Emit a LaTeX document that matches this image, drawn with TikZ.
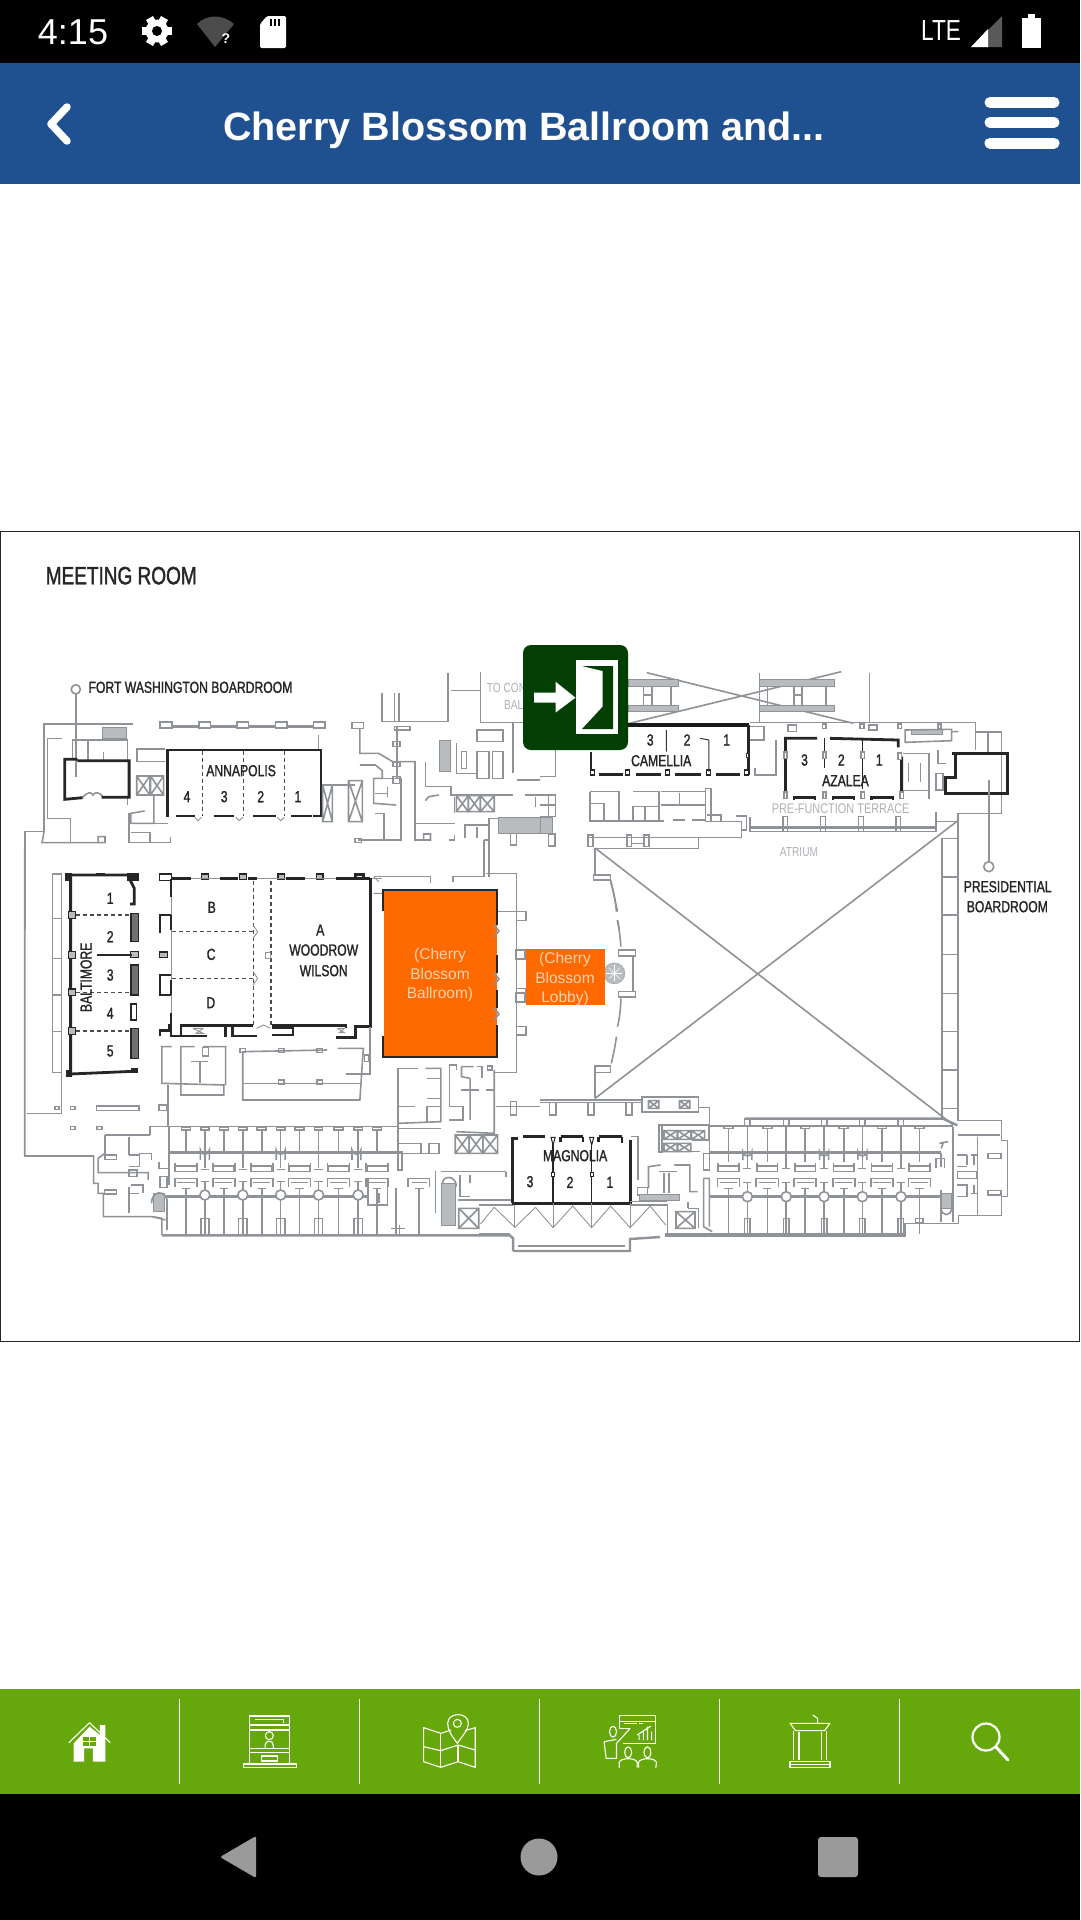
\documentclass[tikz,border=0pt]{standalone}
\usepackage{fontspec}
\setmainfont{Liberation Sans}
\newfontfamily\condf[FakeStretch=0.76,FakeBold=1.4]{Liberation Sans}
\newfontfamily\condt[FakeStretch=0.78]{Liberation Sans}
\newfontfamily\statf{Liberation Sans}
\definecolor{wallc}{HTML}{8F9397}
\definecolor{hatchc}{HTML}{B9BCBF}
\definecolor{blueb}{HTML}{1F5090}
\definecolor{greenb}{HTML}{66A80B}
\definecolor{orangeb}{HTML}{FF6A00}
\definecolor{exitg}{HTML}{033F03}
\definecolor{navg}{HTML}{9A9A9A}
\definecolor{peach}{HTML}{F7D2B4}
\definecolor{lightt}{HTML}{AEB1B5}
\newcommand{\xbx}[4]{\draw[wall] (#1,#2) rectangle (#3,#4) (#1,#2) -- (#3,#4) (#1,#4) -- (#3,#2);}
\newcommand{\hbx}[4]{\draw[hatch] (#1,#2) rectangle (#3,#4);}
\tikzset{
  Za/.style={shift={(0,530)},x=0.34439pt,y=-0.33333pt},
  Zb/.style={shift={(540,530)},x=0.34439pt,y=-0.33333pt},
  Zc/.style={shift={(0,850)},x=0.34439pt,y=-0.33333pt},
  Zd/.style={shift={(540,850)},x=0.34439pt,y=-0.33333pt},
  Zt/.style={x=0.68878pt,y=-0.33333pt},
  Zf/.style={shift={(0,1680)},x=0.68878pt,y=-0.33333pt},
  wall/.style={draw=wallc,line width=1.6pt,line join=miter},
  wallb/.style={draw=wallc,line width=2.4pt},
  thin wall/.style={draw=wallc,line width=.9pt},
  hatch/.style={draw=wallc,fill=hatchc,line width=1pt},
  bw/.style={draw=black!85,line width=2.4pt},
  bwb/.style={draw=black!90,line width=3.8pt},
  dashb/.style={draw=black!70,line width=1.1pt,dash pattern=on 4pt off 3pt},
  lb/.style={inner sep=0pt,align=center,text=black!85,font=\condf\fontsize{16}{19}\selectfont},
  lbs/.style={lb,font=\condf\fontsize{15}{18}\selectfont},
  lt/.style={inner sep=0pt,text=lightt,font=\condt\fontsize{14}{16}\selectfont},
  ot/.style={inner sep=0pt,align=center,text=peach,font=\fontsize{15.5}{19}\selectfont},
  ic/.style={draw=white,line width=1.1pt,line join=round},
}
\begin{document}
\begin{tikzpicture}[x=1pt,y=-1pt]
\useasboundingbox (0,0) rectangle (1080,1920);
\fill[white] (0,0) rectangle (1080,1920);
% bars
\fill[black] (0,0) rectangle (1080,63);
\fill[blueb] (0,63) rectangle (1080,184);
\fill[greenb] (0,1689) rectangle (1080,1794);
\fill[black] (0,1794) rectangle (1080,1920);
% frame
\draw[black!85,line width=1pt] (.5,531) rectangle (1079.5,1341);
% status bar
\node (time) [inner sep=0pt,text=white,font=\fontsize{36}{40}\selectfont] at (73,32) {4:15};
\foreach \a in {0,60,...,300}{\fill[white] (157,31) ++(\a:15) ++(\a+90:4) -- ++(\a+180:6) -- ++(\a-90:8) -- ++(\a:6) -- cycle;}
\fill[white] (157,31) circle (11.5);
\fill[black] (157,31) circle (5);
\fill[black!70] (215,47) -- (197,24) .. controls (207,14) and (223,14) .. (234,24) -- cycle;
\node (wq) [inner sep=0pt,text=white,font=\bfseries\fontsize{14}{16}\selectfont] at (226,39) {?};
\fill[white,rounded corners=1.5pt] (267,16) -- (286,16) -- (286,48) -- (260,48) -- (260,24) -- cycle;
\foreach \x in {270,274,278}{\fill[black] (\x,19) rectangle (\x+2,26);}
\node (lte) [inner sep=0pt,text=white,font=\condt\fontsize{29}{32}\selectfont] at (941,31) {LTE};
\fill[black!65] (971,47) -- (1002,16) -- (1002,47) -- cycle;
\fill[white] (971,47) -- (988,29) -- (988,47) -- cycle;
\fill[white] (1022,18) rectangle (1041,48);
\fill[white] (1028,14) rectangle (1035,19);
% header
\node (title) [anchor=base,inner sep=0pt,text=white,font=\bfseries\fontsize{39.5}{42}\selectfont] at (524,140) {Cherry Blossom Ballroom and...};
\draw[white,line width=7.5pt,line cap=round,line join=round] (67,107) -- (51,124) -- (67,141);
\foreach \y in {102.5,122.5,143}{\draw[white,line width=11pt,line cap=round] (990,\y) -- (1054,\y);}

% ---------- top left
\begin{scope}[Za]
\draw[wall] (220,492) -- (220,740);
\draw[wall,fill=white] (220,478) circle[radius=4.6pt];
\draw[wall] (385,582) -- (128,582) -- (128,905) -- (72,905) -- (72,1200);
\draw[wall] (128,905) -- (122,938) -- (305,938) -- (305,920) -- (285,920) -- (285,938);
\draw[wall] (180,625) -- (138,625) -- (138,865) -- (205,865) -- (205,938);
\hbx{298}{592}{368}{625}
\draw[wall] (210,630) -- (370,630) -- (370,690);
\draw[wall] (210,630) -- (210,690) (255,630) -- (255,690) (300,665) -- (300,690) (370,805) -- (370,825);
\draw[wall] (240,802) .. controls (255,785) and (265,785) .. (270,795) .. controls (275,785) and (290,785) .. (300,802);
\draw[bw,line width=2.8pt] (240,803) -- (188,808) -- (188,688) -- (225,688) (225,692) -- (375,692) -- (375,802) -- (295,802);
% top colonnade
\draw[wallb] (465,590) -- (945,590);
\foreach \x in {465,577,688,800,910}{\draw[wall,fill=white] (\x,576) rectangle (\x+34,594);}
\draw[wall] (925,615) -- (925,660);
% annapolis
\draw[bw,line width=2.8pt] (487,860) -- (487,660) -- (932,660) -- (932,860);
\foreach \a/\b in {510/565,620/680,735/800,845/905,910/932}{\draw[bw,line width=2.8pt] (\a,858) -- (\b,858);}
\foreach \x in {587,707,827}{\draw[dashb] (\x,662) -- (\x,858);}
\foreach \x in {575,695,815}{\draw[thin wall] (\x-10,862) -- (\x,872) -- (\x+10,862);}
\node (annap) [lb] at (700,722) {ANNAPOLIS};
\node (an4) [lb] at (543,800) {4};
\node (an3) [lb] at (651,800) {3};
\node (an2) [lb] at (757,800) {2};
\node (an1) [lb] at (865,800) {1};
% left of annapolis
\draw[wall] (480,657) -- (397,657) -- (397,695) -- (480,695);
\xbx{397}{738}{435}{795}
\xbx{437}{738}{475}{795}
\draw[wall] (447,795) -- (447,880) -- (380,880) -- (380,850) -- (420,843);
\draw[wall] (375,850) -- (375,938) -- (495,938) -- (495,920);
\draw[wall] (380,908) -- (435,908) -- (435,938) (447,880) -- (487,880);
% right of annapolis
\xbx{937}{765}{965}{875}
\draw[wall] (965,765) -- (1030,765);
\xbx{1012}{752}{1052}{875}
% centre block
\draw[wall] (1022,577) rectangle (1055,595);
\draw[wall] (1045,595) -- (1045,670) -- (1100,670) -- (1140,695) -- (1205,695) -- (1205,930) -- (1250,930) -- (1250,912) -- (1230,912) -- (1230,930);
\draw[wall] (1235,695) -- (1235,770) -- (1310,770) -- (1310,795) -- (1490,795);
\draw[wall] (1205,880) -- (1320,880) (1320,800) -- (1320,850);
\draw[wall] (1320,915) -- (1320,930) -- (1305,930);
\draw[wall] (1110,490) -- (1110,575) -- (1300,575) -- (1300,430);
\draw[wall] (1145,490) -- (1145,575) (1158,490) -- (1158,575);
\draw[wall] (1310,482) -- (1395,482);
\draw[wall] (1395,425) -- (1395,577) -- (1525,577);
\draw[wall] (1152,590) -- (1152,745);
\draw[wall] (1145,590) rectangle (1190,600);
\draw[wall] (1142,635) rectangle (1162,650) (1142,698) rectangle (1162,710) (1142,740) rectangle (1162,760);
\draw[wall] (1045,705) -- (1090,705) -- (1110,722) -- (1110,745) -- (1085,745) -- (1085,820) -- (1150,825);
\draw[wall] (1110,745) -- (1165,745) -- (1165,930) -- (1040,930);
\draw[wall] (1030,925) rectangle (1050,938);
\draw[wall] (1090,850) -- (1115,850) -- (1115,930);
\draw[wall] (1090,790) -- (1125,790) (1125,770) -- (1125,800);
\draw[wall] (1235,812) -- (1245,800) -- (1275,795);
\hbx{1275}{630}{1308}{725}
\draw[wall] (1325,640) -- (1325,730) -- (1385,730);
\draw[wall] (1340,665) rectangle (1355,715);
\draw[wall] (1385,600) rectangle (1460,635);
\draw[wall] (1385,665) rectangle (1420,745);
\draw[wall] (1430,665) rectangle (1460,745);
\draw[wall] (1490,580) -- (1490,730) (1500,750) -- (1568,750);
\xbx{1325}{797}{1360}{845}
\xbx{1360}{797}{1395}{845}
\xbx{1395}{797}{1435}{845}
\hbx{1447}{862}{1568}{910}
\draw[wall] (1525,795) -- (1568,795) (1555,800) -- (1555,830);
\draw[wall] (1420,865) -- (1447,865) (1420,865) -- (1420,1040) (1405,930) -- (1405,1040) (1405,930) -- (1420,930);
\draw[wall] (1350,925) -- (1350,885) -- (1420,885) (1385,890) -- (1385,925);
\draw[wall] (1482,910) rectangle (1500,945);
% labels
\node (mroom) [inner sep=0pt,text=black!85,font=\condf\fontsize{25}{28}\selectfont] at (352,137) {MEETING ROOM};
\node (fwb) [lb] at (553,472) {FORT WASHINGTON BOARDROOM};
\node (toc) [lt,anchor=west,font=\condt\fontsize{13}{15}\selectfont] at (1413,475) {TO CON};
\node (bal) [lt,anchor=west,font=\condt\fontsize{13}{15}\selectfont] at (1463,524) {BAL};
\end{scope}

% ---------- top right
\begin{scope}[Zb]
\draw[wall] (310,428) -- (910,580);
\draw[wall] (240,585) -- (875,425);
\draw[wall] (957,430) -- (957,580);
\draw[wall] (637,430) -- (637,580);
\hbx{256}{447}{403}{470}
\hbx{256}{525}{403}{545}
\hbx{637}{447}{855}{470}
\hbx{637}{525}{855}{545}
\foreach \x in {300,325,380,660,738,760,830}{\draw[wall] (\x,470) -- (\x,525);}
\draw[wall] (300,495) -- (325,495) (738,495) -- (760,495);
% camellia
\draw[bwb] (240,586) -- (607,586);
\draw[bw,line width=2.8pt] (605,586) -- (605,735);
\draw[bw] (148,665) -- (148,735);
\foreach \a/\b in {170/240,280/350,392/468,510/580}{\draw[bw] (\a,733) -- (\b,733);}
\foreach \x in {152,255,370,490,600}{\draw[bw,line width=1.1pt,fill=white] (\x-6,720) rectangle (\x+6,735);}
\draw[black!80,line width=1pt] (367,600) -- (367,665) (490,630) -- (490,725) (465,625) -- (490,630);
\draw[black!80,line width=.8pt,fill=white] (600,670) rectangle (606,682);
\node (cam3) [lb] at (320,630) {3};
\node (cam2) [lb] at (427,630) {2};
\node (cam1) [lb] at (542,630) {1};
\node (cam) [lb] at (352,692) {CAMELLIA};
% east corridor
\draw[wall] (610,578) -- (1265,578) -- (1265,606) -- (1340,606) -- (1340,850) -- (1212,850);
\draw[wall] (610,590) -- (650,590) -- (650,630) -- (610,630);
\draw[wall] (685,630) -- (685,735) -- (625,735) -- (625,715);
\draw[wall] (720,585) rectangle (745,605) (955,585) rectangle (978,600);
\foreach \x in {825,935,1045,1160}{\draw[wall] (\x-5,582) rectangle (\x+5,596);}
\draw[wall] (1300,610) -- (1300,665) (1265,606) -- (1265,660);
% azalea
\draw[bw,line width=2.8pt] (713,790) -- (713,625) -- (805,625) (842,625) -- (1040,630) -- (1040,652) (1050,680) -- (1050,785);
\foreach \a/\b in {738/798,850/912,962/1025}{\draw[bw] (\a,810) -- (\a,803) -- (\b,803) -- (\b,810);}
\draw[black!85,line width=1.3pt] (826,625) -- (826,715) (937,630) -- (937,778);
\foreach \x/\y in {713/672,826/672,937/672,1045/675,713/792,826/792,937/792,1050/792}{\draw[wall,fill=white] (\x-5,\y-6) rectangle (\x+5,\y+14);}
\node (az3) [lb] at (768,690) {3};
\node (az2) [lb] at (875,690) {2};
\node (az1) [lb] at (985,690) {1};
\node (az) [lb] at (887,752) {AZALEA};
\node (pft) [lt] at (873,836) {PRE-FUNCTION TERRACE};
\node (atr) [lt,font=\condt\fontsize{13}{15}\selectfont] at (752,965) {ATRIUM};
% east services
\hbx{1078}{598}{1170}{612}
\draw[wall] (1060,600) -- (1195,598) -- (1195,632) -- (1060,637) -- cycle (1195,605) -- (1215,605);
\draw[wall] (1055,670) -- (1130,670) -- (1130,808) (1055,782) -- (1130,782);
\draw[wall] (1070,700) -- (1070,755) (1105,700) -- (1105,755);
\draw[wall] (1155,660) -- (1155,700) -- (1178,700) (1150,730) -- (1170,730) -- (1170,780) -- (1150,780) -- cycle;
% presidential
\draw[bw,line width=3pt] (1195,670) -- (1358,670) -- (1358,790) -- (1178,790) -- (1178,742) -- (1205,742) -- (1205,670);
\draw[wall] (1303,750) -- (1303,995);
\draw[wall,fill=white] (1303,1010) circle[radius=5pt];
\node (pres) [lb] at (1358,1070) {PRESIDENTIAL};
\node (bdrm) [lb] at (1357,1130) {BOARDROOM};
% terrace wall
\draw[wallb] (610,892) -- (1150,892);
\draw[wall] (610,905) -- (1150,905) (610,862) -- (610,905);
\foreach \x in {712,822,932,1040}{\draw[wall] (\x-7,905) -- (\x-7,860) -- (\x+7,860) -- (\x+7,905);}
\draw[wall] (1150,845) -- (1150,905) (1150,875) -- (1212,875);
\draw[wall] (480,775) rectangle (497,875);
\draw[wall] (485,855) -- (525,855) -- (525,875) (485,875) -- (585,875) -- (585,922) -- (140,922);
\draw[wall] (570,858) -- (600,858) -- (600,900) -- (585,900);
% atrium NW rooms
\draw[wall] (145,785) -- (230,785) -- (230,873) (145,785) -- (145,873) -- (360,873) (185,820) -- (185,873) (145,820) -- (185,820);
\draw[wall] (270,873) -- (270,830) -- (345,830) (270,785) -- (345,785) -- (345,873) (305,830) -- (305,873);
\draw[wall] (350,785) -- (480,785) (350,825) -- (480,825) (405,790) -- (405,825);
\draw[wallb] (385,870) -- (420,870) (440,870) -- (480,870);
\draw[wall] (25,795) -- (45,795) -- (45,860) -- (0,860) (25,795) -- (25,860) (0,795) -- (45,795) (0,825) -- (45,825);
\hbx{0}{862}{35}{910}
\draw[wall] (25,912) rectangle (43,948);
\draw[wall] (0,740) -- (45,740) -- (45,660);
% atrium frame
\draw[wall] (160,955) -- (460,955) -- (460,925);
\foreach \x in {140,252,302}{\draw[wall] (\x,915) rectangle (\x+14,950);}
\draw[wall] (267,940) -- (302,940);
\draw[wall] (160,955) -- (160,1035);
\draw[wall] (155,1035) -- (205,1035) -- (205,1050) -- (155,1050) -- cycle;
\draw[wall] (205,1050) -- (225,1145) (225,1170) -- (230,1200);
% double wall
\draw[wall] (1167,925) -- (1167,1200);
\draw[wallb] (1213,850) -- (1213,1200);
\foreach \y in {925,1040,1155}{\draw[wall] (1167,\y) -- (1213,\y);}
\end{scope}

% ---------- bottom left
\begin{scope}[Zc]
\draw[wall] (72,0) -- (72,918) -- (272,918) -- (272,1000) -- (285,1000) -- (285,1030) -- (300,1030) -- (300,1100) -- (440,1100) (440,1100) -- (470,1105) -- (470,1155);
\draw[wallb] (470,1156) -- (1480,1156) -- (1490,1165) -- (1490,1203);
% west lobby
\draw[wall] (152,72) rectangle (178,668);
\foreach \y in {205,325,435,545}{\draw[wall] (152,\y) -- (178,\y);}
\draw[wall] (178,668) -- (178,790) -- (78,790);
\draw[wall] (205,770) rectangle (218,778) (160,770) rectangle (172,778) (205,830) rectangle (218,838) (282,830) rectangle (296,838);
\draw[wall] (280,768) rectangle (403,782);
\draw[wall] (462,765) rectangle (483,782);
\draw[wall] (488,705) -- (488,830);
% Baltimore
\draw[bw,line width=2.8pt] (380,75) -- (205,75) -- (205,672) -- (385,664) -- (400,664);
\foreach \x/\y/\u/\v in {190/68/210/92,370/68/405/92,280/68/305/78,192/660/210/680,380/655/402/668}{\fill[black!85] (\x,\y) rectangle (\u,\v);}
\draw[bw,line width=2.8pt] (378,90) -- (390,115) -- (390,162) -- (378,162);
\foreach \u/\v in {190/275,345/435,535/625}{\draw[bw,line width=1.3pt,fill=hatchc!60!black] (380,\u) rectangle (403,\v);}
\draw[bw,line width=1.3pt,fill=white] (380,462) rectangle (396,510);
\foreach \y in {195,315,427,543}{\draw[bw,line width=1.2pt,fill=hatchc] (200,\y-10) rectangle (220,\y+10);}
\draw[bw,line width=1.2pt,fill=hatchc] (380,305) rectangle (402,322);
\draw[dashb] (222,195) -- (380,195) (222,427) -- (380,427) (222,543) -- (380,543);
\draw[black!85,line width=1.3pt] (282,315) -- (382,315);
\node (balt) [lb,rotate=90] at (250,382) {BALTIMORE};
\node (ba1) [lb] at (320,145) {1};
\node (ba2) [lb] at (320,260) {2};
\node (ba3) [lb] at (320,375) {3};
\node (ba4) [lb] at (320,490) {4};
\node (ba5) [lb] at (320,603) {5};
% Woodrow Wilson
\foreach \a/\b in {497/555,640/690,720/745,830/885,975/1075}{\draw[bw] (\a,86) -- (\b,86);}
\foreach \x in {595,705,817,928}{\draw[bw,line width=1.2pt,fill=hatchc] (\x-10,72) rectangle (\x+10,88);}
\draw[bw,line width=1.2pt,fill=white] (464,72) rectangle (497,92);
\draw[bw] (1032,82) -- (1032,74) -- (1055,74) -- (1055,82);
\draw[thin wall] (555,86) -- (640,86) (745,86) -- (830,86) (885,86) -- (975,86) (1075,86) -- (1110,86);
\draw[bw,line width=2.8pt] (1075,85) -- (1075,530) -- (1032,530) -- (1032,562) -- (975,562);
\draw[bw] (497,88) -- (497,140) (497,195) -- (497,240) (497,390) -- (497,435) (497,490) -- (497,530);
\draw[thin wall] (497,140) -- (497,195) (497,240) -- (497,390) (497,435) -- (497,490);
\draw[bw] (497,195) -- (465,195) -- (465,250) (497,375) -- (465,375) -- (465,435) -- (497,435);
\draw[bw,line width=1.2pt,fill=hatchc] (464,306) rectangle (486,322);
\draw[bw] (465,558) -- (465,542) -- (490,542) -- (490,525) -- (497,525) (497,527) -- (497,558) -- (525,558) -- (525,527) -- (735,527) (525,558) -- (600,558);
\draw[bw] (790,527) -- (1005,527) -- (1005,535);
\draw[bw] (655,530) -- (655,560) (675,530) -- (675,558) -- (745,558) (790,532) -- (850,532) -- (850,555) -- (790,555);
\draw[thin wall] (560,535) -- (590,535) -- (570,550) -- (590,550) -- (560,535) (980,535) -- (1000,535) -- (985,548) -- (1000,548) -- (980,535) (745,535) -- (765,525) -- (785,535);
\draw[dashb] (735,92) -- (735,525) (787,92) -- (787,525);
\draw[dashb] (500,245) -- (735,245) (500,385) -- (735,385);
\draw[thin wall] (735,225) -- (748,245) -- (735,265) (735,365) -- (748,385) -- (735,405);
\draw[thin wall] (772,308) rectangle (785,325);
\node (rb) [lb] at (615,172) {B};
\node (rc) [lb] at (613,313) {C};
\node (rd) [lb] at (612,458) {D};
\node (ra) [lb] at (930,240) {A};
\node (woodrow) [lb] at (940,300) {WOODROW};
\node (wilson) [lb] at (940,362) {WILSON};
% south of Woodrow Wilson
\draw[wall] (498,590) -- (470,590) -- (470,700) -- (650,705) -- (650,735) -- (525,735) -- (525,590) -- (565,590) (590,590) -- (655,590) -- (655,705);
\draw[wall] (588,592) rectangle (605,618);
\draw[wall] (555,635) -- (605,635) (580,635) -- (580,700);
\draw[wall] (950,600) -- (705,605) -- (705,750) -- (1045,750) -- (1055,595) -- (980,595);
\draw[wall] (705,700) -- (1045,700) (1005,672) -- (1075,672) -- (1075,530);
\foreach \x in {705,817,928}{\draw[wall] (\x-8,596) rectangle (\x+8,608);}
\foreach \x in {817,928}{\draw[wall] (\x-8,690) rectangle (\x+8,702);}
\draw[wall] (1058,615) rectangle (1072,635);
% centre service block
\draw[wall] (1215,655) -- (1155,655) -- (1155,910) -- (1275,910) -- (1275,880) -- (1245,880) -- (1245,910);
\draw[wall] (1235,655) -- (1280,655) -- (1280,815) -- (1155,820);
\draw[wall] (1155,770) -- (1205,770) (1240,820) -- (1240,770) -- (1280,770) (1240,685) -- (1280,685) (1240,745) -- (1280,745);
\draw[wall] (1155,835) -- (1280,835) (1160,880) -- (1222,880) -- (1222,910);
\draw[wall] (1305,645) -- (1305,770) -- (1345,770) -- (1345,810) -- (1305,810) (1305,645) -- (1325,645) -- (1325,660);
\draw[wall] (1340,650) -- (1375,650) (1340,650) -- (1340,680) -- (1365,685) (1365,685) -- (1365,810);
\draw[wall] (1340,720) -- (1392,720) (1410,720) -- (1435,720) (1385,650) -- (1400,650) -- (1400,685);
\draw[wall] (1435,660) -- (1435,850) -- (1325,845);
\draw[wall] (1415,648) rectangle (1428,660);
\draw[wall] (1435,668) -- (1500,668) -- (1500,70) -- (1410,70) (1500,185) -- (1445,185);
\draw[wall] (1440,770) -- (1568,770);
\draw[wall] (1482,755) rectangle (1500,795);
\foreach \a/\b in {185/212,305/328,415/440,530/555}{\draw[wall] (1500,\a) rectangle (1527,\b);}
\xbx{1322}{855}{1362}{910}
\xbx{1362}{855}{1402}{910}
\xbx{1402}{855}{1445}{910}
\draw[wall] (1085,80) -- (1250,80) -- (1250,100) (1315,95) -- (1315,80) -- (1405,80);
\draw[thin wall] (1085,130) -- (1110,130) (1085,80) -- (1100,95);
% west wing rooms
\draw[wall] (435,855) -- (435,830) -- (1155,830);
\draw[wallb] (490,908) -- (1165,908) (465,1040) -- (1070,1040);
\draw[wall] (490,830) -- (490,1005);
\draw[wall] (305,855) -- (435,855) (305,855) -- (305,910) -- (285,925) -- (285,968) -- (430,968) -- (430,990);
\draw[wall] (375,860) -- (375,915) (375,1010) -- (375,1090) (305,915) rectangle (338,928);
\draw[wall] (375,915) -- (405,915) -- (405,950) (375,950) -- (405,950) (405,910) -- (440,910) -- (440,930);
\draw[wall] (375,960) rectangle (398,980);
\draw[wall] (375,1030) -- (405,1030) (380,1005) -- (415,1005) -- (415,1030) (303,1020) rectangle (338,1032);
\draw[wall] (462,935) -- (462,955) -- (490,955) (465,980) rectangle (485,1012);
\hbx{447}{1030}{478}{1085}
\draw[wall] (440,1060) .. controls (440,1020) and (480,1020) .. (485,1050) (445,1100) -- (480,1110) (485,1050) -- (485,1140);
\foreach \x in {540,650,760,870,983,1095}{
  \draw[wall] (\x-13,832) rectangle (\x+13,840) (\x,840) -- (\x,908);
  \draw[wall] (\x-32,965) -- (\x-32,940) (\x+32,965) -- (\x+32,940) (\x-32,965) -- (\x+32,965) (\x-30,948) rectangle (\x+30,965);
  \draw[wall] (\x-32,1012) -- (\x-32,985) -- (\x+32,985) -- (\x+32,1012) (\x-25,997) -- (\x+25,997);
  \draw[wall] (\x-12,1015) -- (\x+12,1015) (\x,1015) -- (\x,1155);
}
\foreach \x in {595,705,815,925,1040}{
  \draw[wall] (\x-12,832) rectangle (\x+12,840) (\x,840) -- (\x,955) (\x-12,958) -- (\x+12,958);
  \draw[wall] (\x-12,995) -- (\x+12,995) (\x,995) -- (\x,1155) (\x-12,1105) rectangle (\x+12,1155);
}
\foreach \x in {595,815,1035}{\draw[wall] (\x-13,930) -- (\x-13,900) arc[start angle=180,end angle=0,radius=13] -- (\x+13,930);}
\foreach \x in {595,705,815,925,1040}{\draw[wall,fill=white] (\x,1035) circle[radius=5pt];}
% west wing south service
\draw[wall] (1068,985) -- (1125,985) -- (1125,1065) -- (1068,1065) -- cycle;
\draw[wall] (1185,985) -- (1247,985) -- (1247,1010) (1185,1010) -- (1185,985) (1195,997) -- (1240,997) (1205,1015) -- (1230,1015) (1217,1015) -- (1217,1155);
\draw[wall] (1150,1015) -- (1150,1155) (1100,1030) -- (1100,1060) (1160,1125) -- (1160,1155) (1135,1135) -- (1175,1135);
\draw[wall] (1155,905) rectangle (1168,960);
\draw[wall] (1265,962) -- (1265,1090) (1280,965) -- (1470,965) (1470,965) -- (1470,980);
\hbx{1282}{1000}{1322}{1125}
\draw[wall] (1285,1000) .. controls (1285,975) and (1325,975) .. (1325,1010);
\draw[wall] (1335,975) -- (1335,1040) -- (1365,1040) (1365,975) -- (1365,1000);
\draw[wall] (1330,1050) -- (1485,1050);
\xbx{1332}{1075}{1390}{1135}
\draw[wall] (1390,1065) -- (1490,1065);
\draw[thin wall] (1395,1122) -- (1435,1072) -- (1495,1132) -- (1555,1072);
\draw[thin wall] (1495,1065) -- (1495,1132);
\draw[thin wall] (1390,1150) -- (1480,1150);
\end{scope}

% ---------- bottom right
\begin{scope}[Zd]
\draw[wall,line width=1.6pt] (160,-6) -- (1200,825);
\draw[wall,line width=1.6pt] (160,745) -- (1212,-87);
\draw[wall] (1167,0) -- (1167,805);
\draw[wallb] (1213,0) -- (1213,812);
\foreach \y in {82,197,313,430,545,660,775}{\draw[wall] (1167,\y) -- (1213,\y);}
\draw[wall] (205,95) .. controls (215,125) and (220,160) .. (222,185) (225,210) .. controls (230,235) and (233,265) .. (235,290) (235,445) .. controls (234,480) and (230,510) .. (225,530) (222,560) .. controls (218,590) and (212,620) .. (207,640);
\draw[wall] (228,300) rectangle (277,318) (228,425) rectangle (277,441) (270,318) -- (270,425);
\draw[hatchc!80!black,fill=hatchc] (216,370) circle[radius=10.5pt];
\foreach \a in {0,45,...,315}{\draw[white,line width=.5pt] (216,370) -- ++(\a:8pt);}
\draw[wall] (160,745) -- (160,648) -- (205,648) -- (205,668) -- (160,668);
\draw[wall] (0,750) -- (295,750) (0,757) -- (295,757);
\foreach \x in {37,148,258}{\draw[wall] (\x-9,757) -- (\x-9,795) -- (\x+9,795) -- (\x+9,757);}
\draw[wall,line width=1.8pt] (295,742) rectangle (460,787);
\xbx{315}{752}{345}{775}
\xbx{405}{752}{435}{775}
\draw[wall] (460,772) -- (492,772) -- (492,825);
\draw[wall,line width=1.9pt] (345,825) rectangle (355,905);
\xbx{360}{842}{398}{868}
\xbx{400}{842}{438}{868}
\xbx{440}{842}{478}{868}
\xbx{360}{880}{398}{905}
\xbx{400}{880}{438}{905}
\draw[wall] (345,825) -- (490,825) -- (490,870) -- (440,870) (345,905) -- (465,905);
% Magnolia
\draw[bw,line width=2.8pt] (262,870) -- (262,1060) -- (-81,1060);
\draw[bw,line width=2.8pt] (-81,1060) -- (-81,865) -- (-65,865) (-48,860) -- (15,860) (60,860) -- (125,860) (170,860) -- (238,860);
\draw[bw,line width=2.4pt] (60,860) -- (60,875) (125,860) -- (125,875) (170,860) -- (170,875) (238,860) -- (238,878);
\draw[black!85,line width=1.3pt] (38,870) -- (38,1060) (150,870) -- (150,1060);
\foreach \x in {38,150}{\draw[black!85,line width=1pt,fill=white] (\x-6,862) -- (\x+6,862) -- (\x,885) -- cycle; \draw[black!85,line width=.8pt,fill=white] (\x-5,966) rectangle (\x+5,980);}
\node (mag) [lb] at (102,917) {MAGNOLIA};
\node (mg3) [lb] at (-29,995) {3};
\node (mg2) [lb] at (87,997) {2};
\node (mg1) [lb] at (203,997) {1};
\draw[thin wall] (-13,1072) -- (38,1133) -- (95,1068) -- (150,1133) -- (205,1068) -- (262,1133) -- (320,1068) -- (365,1125);
\draw[thin wall] (38,1060) -- (38,1133) (150,1060) -- (150,1133) (262,1060) -- (262,1133);
\draw[wall] (265,860) -- (285,860) -- (285,990);
\draw[wall] (350,945) -- (315,950) -- (315,1015) (390,945) -- (435,945) -- (435,1025) -- (458,1025);
\draw[wall] (345,965) -- (398,965) (360,970) -- (360,1030) (375,970) -- (375,1030);
\draw[wall] (283,1012) -- (312,1012) -- (312,1035) -- (283,1035) -- cycle;
\hbx{290}{1032}{405}{1050}
\draw[wall] (262,1065) -- (370,1065) -- (370,1152) -- (492,1152);
\draw[wall] (262,1055) -- (370,1055);
\xbx{395}{1085}{450}{1135}
\draw[wall] (430,1075) -- (460,1075) -- (460,1135) (430,1055) -- (430,1075);
\draw[wall] (475,910) -- (475,960) -- (492,960) -- (492,830) (475,910) -- (492,910);
\draw[wall] (475,985) -- (475,1130) -- (500,1145) (475,985) -- (492,985) -- (492,1130);
% east wing
\draw[wallb] (595,806) -- (1170,806) -- (1212,826);
\draw[wall] (495,828) -- (1200,828);
\draw[wallb] (495,908) -- (1165,908) (495,1040) -- (1165,1040);
\draw[wallb] (362,1153) -- (1060,1153);
\draw[wall] (1060,1160) -- (1060,1120) -- (1215,1120) -- (1215,1097) -- (1340,1097) -- (1340,1040) -- (1358,1040) -- (1358,872) -- (1340,872) -- (1340,812) -- (1212,812);
\draw[wall] (362,1160) -- (1060,1160);
\draw[wall] (1200,830) -- (1200,1115) (1165,910) -- (1165,950) (1150,955) -- (1150,925) -- (1175,925) -- (1175,955) (1165,1020) -- (1165,1115);
\hbx{1165}{1030}{1195}{1075}
\draw[wall] (1165,1075) .. controls (1165,1100) and (1195,1100) .. (1195,1075);
\draw[wall] (1090,1105) rectangle (1112,1118);
\foreach \x in {547,660,770,882,993,1102}{
  \draw[wall] (\x-13,826) rectangle (\x+13,836) (\x,836) -- (\x,908);
  \draw[wall] (\x,908) -- (\x,935);
  \draw[wall] (\x-30,965) -- (\x-30,938) (\x+30,965) -- (\x+30,938) (\x-30,965) -- (\x+30,965) (\x-30,948) rectangle (\x+30,965);
  \draw[wall] (\x-32,1012) -- (\x-32,985) -- (\x+32,985) -- (\x+32,1012) (\x-25,997) -- (\x+25,997);
  \draw[wall] (\x-12,1015) -- (\x+12,1015) (\x,1015) -- (\x,1153);
}
\foreach \x in {602,715,825,936,1048}{
  \draw[wall] (\x-8,806) rectangle (\x+8,830) (\x,830) -- (\x,955) (\x-12,955) -- (\x+12,955);
  \draw[wall] (\x-12,997) -- (\x+12,997) (\x,997) -- (\x,1153) (\x-8,1105) rectangle (\x+8,1153);
  \draw[wall,fill=white] (\x,1040) circle[radius=5pt];
}
\foreach \x in {602,825,936}{\draw[wall] (\x-13,930) -- (\x-13,905) arc[start angle=180,end angle=0,radius=13] -- (\x+13,930);}
% east end
\draw[wall] (1215,855) -- (1335,855) (1270,860) -- (1270,1097) (1212,950) -- (1240,950) (1240,915) -- (1212,915) (1240,915) -- (1240,945);
\draw[wall] (1212,965) rectangle (1268,985) (1212,1005) -- (1240,1005) -- (1240,1040) -- (1212,1040);
\draw[wall] (1252,915) -- (1268,915) (1260,915) -- (1260,945) (1252,1030) -- (1268,1030) (1260,1005) -- (1260,1030);
\draw[wall] (1300,910) rectangle (1338,925) (1300,1022) rectangle (1338,1035);
\draw[wall] (1160,880) -- (1185,875) (1165,895) -- (1172,875);
\end{scope}
% bottom wall / entrance
\draw[wallb] (513,1251) -- (630,1251) -- (630,1239) -- (660,1237);
\draw[wall] (518,1246) -- (625,1246);

% orange rooms
\fill[orangeb] (384,890) rectangle (497,1057);
\draw[black!85,line width=2.4pt] (383,911) -- (383,890) -- (497,890) -- (497,925) (497,1025) -- (497,1057) -- (383,1057) -- (383,1036);
\foreach \y in {955,990}{\draw[black!85,line width=2.4pt] (497,\y) -- (497,\y+18);}
\foreach \y in {925,973,1008}{\draw[wall] (494,\y) -- (499,\y+6) -- (494,\y+12);}
\node (ball) [ot] at (440,975) {(Cherry\\[.2pt]Blossom\\[.2pt]Ballroom)};
\fill[orangeb] (526,949) rectangle (605,1005);
\node (lobby) [ot] at (565,979) {(Cherry\\[.2pt]Blossom\\[.2pt]Lobby)};
\foreach \y in {950,993}{\draw[wall,fill=white] (516,\y) rectangle (525,\y+9);}

% exit icon
\fill[exitg,rounded corners=8pt] (523,645) rectangle (628,750);
\begin{scope}[Zb]
\fill[white] (105,390) rectangle (226,612);
\fill[exitg] (122,408) -- (212,408) -- (212,597) -- (122,597) -- (182,530) -- (182,423) -- cycle;
\fill[white] (-17,488) -- (45,488) -- (45,455) -- (103,503) -- (45,548) -- (45,518) -- (-17,518) -- cycle;
\end{scope}

% footer
\begin{scope}[Zf]
\foreach \x in {261,522,783,1044,1305}{\draw[white,line width=.6pt] (\x,56) -- (\x,311);}
% home
\fill[white] (107,190) -- (130,140) -- (145,165) -- (145,135) -- (153,135) -- (153,245) -- (135,245) -- (135,205) -- (122,205) -- (122,245) -- (107,245) -- cycle;
\draw[ic] (100,188) -- (130,128) -- (160,188);
\fill[greenb] (120,172) rectangle (140,197);
\draw[white,line width=.7pt] (130,172) -- (130,197) (120,184) -- (140,184);
% kiosk
\draw[ic] (362,150) -- (362,108) -- (420,108) -- (420,150) (370,118) -- (412,118) -- (412,128);
\draw[ic] (362,135) -- (420,135) (362,150) -- (420,150);
\draw[ic] (362,150) -- (362,255) (420,150) -- (420,255) (362,205) -- (420,205) (362,218) -- (420,218);
\draw[ic] (391,167) ellipse[x radius=4pt,y radius=4pt];
\draw[ic] (385,205) -- (385,195) arc[start angle=180,end angle=0,radius=4pt] -- (397,205);
\draw[ic] (380,228) rectangle (403,243);
\draw[ic] (353,252) rectangle (430,263);
% map
\draw[ic] (655,150) -- (640,160) -- (615,143) -- (615,245) -- (640,262) -- (665,245) -- (690,262) -- (690,143) -- (675,152);
\draw[ic] (640,160) -- (640,262) (665,195) -- (665,245);
\draw[ic] (615,200) -- (640,212) -- (665,195) -- (690,210);
\draw[ic] (664,190) .. controls (655,165) and (650,150) .. (650,130) .. controls (650,95) and (680,95) .. (680,130) .. controls (680,150) and (672,165) .. (664,190) -- cycle;
\draw[ic] (664,130) ellipse[x radius=4pt,y radius=4pt];
% presenter
\draw[ic] (915,145) -- (900,145) -- (900,107) -- (952,107) -- (952,190) -- (905,190);
\draw[ic] (900,125) -- (952,125);
\draw[white,line width=1.5pt] (906,130) -- (925,130) (928,130) -- (933,130);
\draw[ic] (928,180) -- (928,165) (934,180) -- (934,150) (940,180) -- (940,140) (946,180) -- (946,155) (925,165) -- (945,138);
\draw[ic] (890,155) ellipse[x radius=3.5pt,y radius=5.5pt];
\draw[ic] (915,145) -- (895,190) -- (895,235) -- (880,235) -- (877,185) -- (895,178);
\draw[ic] (912,217) ellipse[x radius=3.5pt,y radius=5.5pt];
\draw[ic] (940,217) ellipse[x radius=3.5pt,y radius=5.5pt];
\draw[ic] (899,263) -- (899,248) arc[start angle=180,end angle=0,x radius=9pt,y radius=4pt] -- (925,263);
\draw[ic] (927,263) -- (927,248) arc[start angle=180,end angle=0,x radius=9pt,y radius=4pt] -- (952,263);
% podium
\draw[ic] (1147,130) -- (1205,130) -- (1197,152) -- (1155,152) -- cycle;
\draw[ic] (1187,130) -- (1187,115) -- (1180,105);
\draw[ic] (1152,152) -- (1152,240) (1200,152) -- (1200,240) (1160,155) -- (1160,240) (1193,155) -- (1193,240);
\draw[ic] (1147,245) rectangle (1205,263);
\draw[ic] (1147,254) -- (1205,254);
\end{scope}
% search
\draw[white,line width=2.2pt] (986,1737) circle[radius=13.5];
\draw[white,line width=3pt,line cap=round] (996,1747) -- (1008,1760);
% nav
\fill[navg,rounded corners=1.5pt] (256,1836) -- (256,1878) -- (220,1857) -- cycle;
\fill[navg] (539,1857) circle[radius=18.5];
\fill[navg,rounded corners=3pt] (818,1837) rectangle (858,1877);
\end{tikzpicture}
\end{document}
